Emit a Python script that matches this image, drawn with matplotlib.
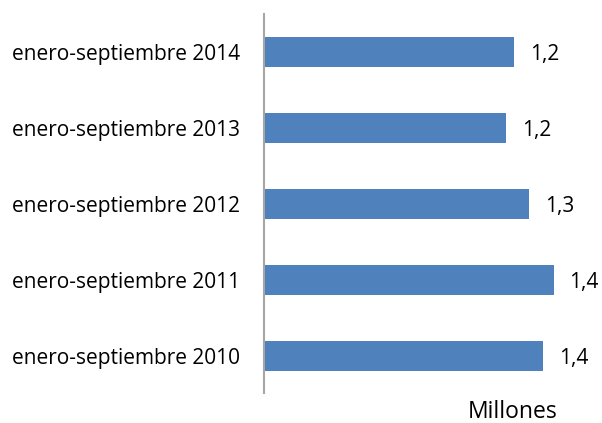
import numpy as np
import matplotlib.pyplot as plt

plt.rcParams['font.family'] = ['Open Sans', 'DejaVu Sans']

# data (bottom to top)
periodos = ['enero-septiembre 2010', 'enero-septiembre 2011', 'enero-septiembre 2012',
            'enero-septiembre 2013', 'enero-septiembre 2014']
valores = [1.35, 1.40, 1.28, 1.17, 1.21]
etiquetas = ['1,4', '1,4', '1,3', '1,2', '1,2']

fig = plt.figure(figsize=(6.02, 4.23), dpi=100)
ax = fig.add_axes([264/602, 1-393/423, 331/602, 379/423])

y = np.arange(len(periodos))
ax.barh(y, valores, height=0.395, color='#4f81bd')

for yi, v, t in zip(y, valores, etiquetas):
    ax.text(v + 0.077, yi - 0.03, t, va='center', ha='left', fontsize=15, color='black')

ax.set_xlim(0, 1.6)
ax.set_ylim(-0.49, 4.5)
ax.set_yticks(y)
ax.set_yticklabels(periodos, fontsize=15)
ax.tick_params(axis='y', length=0, pad=17)
ax.set_xticks([])

for s in ['top', 'right', 'bottom']:
    ax.spines[s].set_visible(False)
ax.spines['left'].set_color('#a6a6a6')
ax.spines['left'].set_linewidth(1.5)

# the reference cuts this text at the bottom edge
fig.text(513/602, 1-412/423, 'Millones', ha='center', va='center', fontsize=16.5)

fig.savefig('out.png', dpi=100)
